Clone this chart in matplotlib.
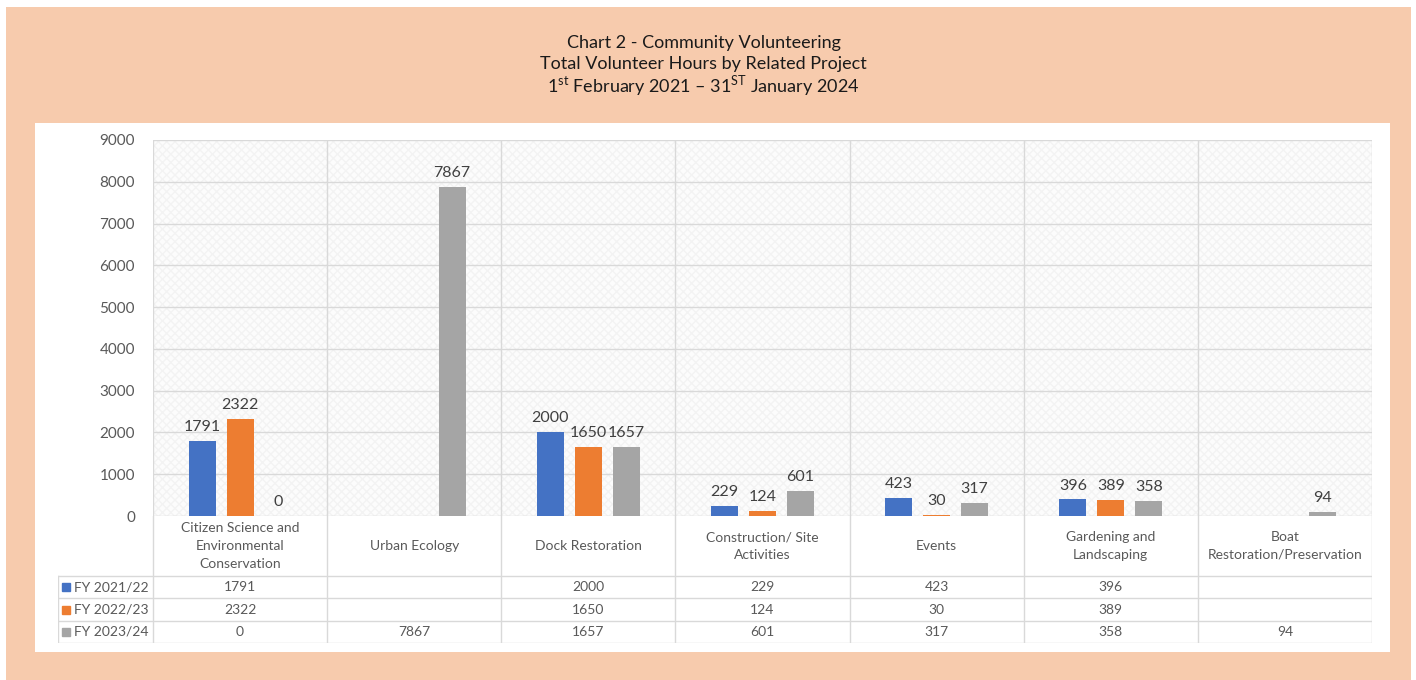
import matplotlib.pyplot as plt
from matplotlib.patches import Rectangle

plt.rcParams['font.family'] = ['Lato', 'DejaVu Sans']
plt.rcParams['mathtext.fontset'] = 'custom'
plt.rcParams['mathtext.rm'] = 'Lato'

# volunteer hours per project and financial year (None = no entry)
categories = ['Citizen Science and\nEnvironmental\nConservation', 'Urban Ecology',
              'Dock Restoration', 'Construction/ Site\nActivities', 'Events',
              'Gardening and\nLandscaping', 'Boat\nRestoration/Preservation']
series_names = ['FY 2021/22', 'FY 2022/23', 'FY 2023/24']
fy_2021_22 = [1791, None, 2000, 229, 423, 396, None]
fy_2022_23 = [2322, None, 1650, 124, 30, 389, None]
fy_2023_24 = [0, 7867, 1657, 601, 317, 358, 94]
y_ticks = [0, 1000, 2000, 3000, 4000, 5000, 6000, 7000, 8000, 9000]

series = [fy_2021_22, fy_2022_23, fy_2023_24]
colors = ['#4472c4', '#ed7d31', '#a5a5a5']
grid_col = '#d9d9d9'
txt_col = '#595959'

W, H = 1416, 680


def box(x0, y0, x1, y1):
    # pixel box (top-left origin) -> figure fraction rect
    return [x0 / W, 1 - y1 / H, (x1 - x0) / W, (y1 - y0) / H]


fig = plt.figure(figsize=(W / 100, H / 100), dpi=100)
fig.patch.set_facecolor('white')
fig.patches.append(Rectangle((6 / W, 0), 1405 / W, 1 - 7 / H, transform=fig.transFigure,
                             facecolor='#f7cbad', edgecolor='none', zorder=-2))
p = box(35, 123, 1390, 652)
fig.patches.append(Rectangle((p[0], p[1]), p[2], p[3], transform=fig.transFigure,
                             facecolor='white', edgecolor='none', zorder=-1))

# titles
title_kw = dict(ha='center', va='center', fontsize=13, color='#1a1a1a')
fig.text(0.497, 1 - 43 / H, 'Chart 2 - Community Volunteering', **title_kw)
fig.text(0.497, 1 - 64 / H, 'Total Volunteer Hours by Related Project', **title_kw)
fig.text(0.497, 1 - 86 / H, r'1$^{\mathrm{st}}$ February 2021 – 31$^{\mathrm{ST}}$ January 2024',
         **title_kw)

# bar chart
ax = fig.add_axes(box(153, 140, 1372, 516))
ax.set_facecolor('#fcfcfc')
ax.add_patch(Rectangle((0, 0), 1, 1, transform=ax.transAxes, facecolor='none',
                       edgecolor='#f3f3f3', hatch='xxxx', linewidth=0, zorder=0))
ax.set_xlim(0, 7)
ax.set_ylim(0, 9000)
ax.set_yticks(y_ticks)
ax.set_yticklabels([str(t) for t in y_ticks], fontsize=11, color=txt_col)
ax.set_xticks([])
ax.tick_params(axis='y', length=0, pad=13)
for s in ax.spines.values():
    s.set_visible(False)
for t in y_ticks:
    ax.axhline(t, color=grid_col, lw=1, zorder=1)
for i in range(8):
    ax.axvline(i, color=grid_col, lw=1, zorder=1)

offset = 0.218
width = 0.155
for j, vals in enumerate(series):
    for i, v in enumerate(vals):
        if v is None:
            continue
        x = i + 0.5 + (j - 1) * offset
        ax.bar(x, v, width=width, color=colors[j], zorder=3)
        ax.annotate(str(v), (x, v), xytext=(0, 5), textcoords='offset points',
                    ha='center', va='bottom', fontsize=11.5, color='#404040')

# data table under the bars
tab = fig.add_axes(box(58, 516, 1372, 643))
left = -95 / (1219 / 7)
tab.set_xlim(left, 7)
tab.set_ylim(127, 0)
tab.axis('off')
row_edges = [60, 82.3, 104.7, 127]
for y in row_edges:
    tab.plot([left, 7], [y, y], color=grid_col, lw=1)
for i in range(8):
    tab.plot([i, i], [0, 127], color=grid_col, lw=1)
tab.plot([left, left], [60, 127], color=grid_col, lw=1)

for i, c in enumerate(categories):
    tab.text(i + 0.5, 30, c, ha='center', va='center', fontsize=10, color=txt_col,
             linespacing=1.55)

px = 1219 / 7
for j, (name, vals) in enumerate(zip(series_names, series)):
    yc = (row_edges[j] + row_edges[j + 1]) / 2
    tab.plot(left + 8 / px, yc, marker='s', markersize=6, color=colors[j], linestyle='none')
    tab.text(left + 16 / px, yc, name, ha='left', va='center', fontsize=10, color=txt_col)
    for i, v in enumerate(vals):
        if v is not None:
            tab.text(i + 0.5, yc, str(v), ha='center', va='center', fontsize=10, color=txt_col)

fig.savefig('out.png', dpi=100)
